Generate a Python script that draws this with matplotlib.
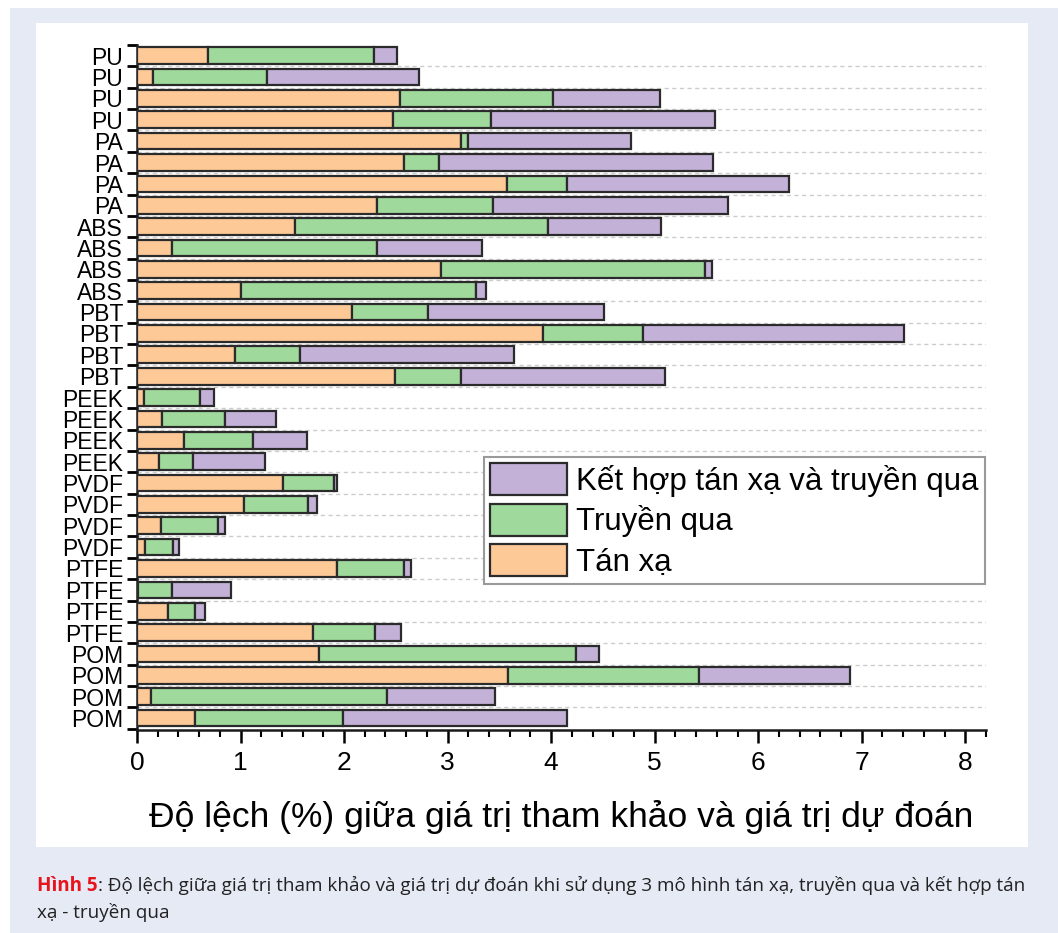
import numpy as np
import matplotlib.pyplot as plt
from matplotlib.patches import Patch, Rectangle

plt.rcParams['font.family'] = ['Liberation Sans', 'DejaVu Sans']

# materials, listed from the bottom bar to the top bar
materials = ['POM', 'POM', 'POM', 'POM',
             'PTFE', 'PTFE', 'PTFE', 'PTFE',
             'PVDF', 'PVDF', 'PVDF', 'PVDF',
             'PEEK', 'PEEK', 'PEEK', 'PEEK',
             'PBT', 'PBT', 'PBT', 'PBT',
             'ABS', 'ABS', 'ABS', 'ABS',
             'PA', 'PA', 'PA', 'PA',
             'PU', 'PU', 'PU', 'PU']

# deviation (%) for each model, same order as materials
tan_xa = [0.56, 0.14, 3.58, 1.76,
          1.70, 0.30, 0.01, 1.93,
          0.08, 0.23, 1.03, 1.41,
          0.21, 0.45, 0.24, 0.07,
          2.49, 0.95, 3.92, 2.08,
          1.00, 2.94, 0.34, 1.53,
          2.32, 3.57, 2.58, 3.13,
          2.47, 2.54, 0.15, 0.69]
truyen_qua = [1.43, 2.27, 1.85, 2.48,
              0.60, 0.26, 0.33, 0.65,
              0.27, 0.55, 0.62, 0.49,
              0.33, 0.67, 0.61, 0.54,
              0.64, 0.62, 0.97, 0.73,
              2.27, 2.55, 1.98, 2.44,
              1.12, 0.58, 0.34, 0.07,
              0.95, 1.48, 1.11, 1.60]
ket_hop = [2.16, 1.05, 1.46, 0.22,
           0.25, 0.10, 0.57, 0.07,
           0.06, 0.07, 0.09, 0.03,
           0.70, 0.52, 0.49, 0.13,
           1.97, 2.07, 2.52, 1.70,
           0.10, 0.06, 1.01, 1.09,
           2.27, 2.15, 2.64, 1.57,
           2.16, 1.03, 1.46, 0.22]

legend_labels = ['Tán xạ', 'Truyền qua', 'Kết hợp tán xạ và truyền qua']
colors = ['#fdc997', '#9fda9c', '#c3b1d8']
edge = '#2b2b2b'

fig = plt.figure(figsize=(10.58, 9.33), dpi=100)
fig.patch.set_facecolor('white')
fig.patches.append(Rectangle((10 / 1058, 0), 1, 1 - 8 / 933, transform=fig.transFigure,
                             facecolor='#e6eaf5', edgecolor='none', zorder=-3))
fig.patches.append(Rectangle((36 / 1058, 1 - 847 / 933), (1028 - 36) / 1058, (847 - 23) / 933,
                             transform=fig.transFigure, facecolor='white',
                             edgecolor='none', zorder=-2))

ax = fig.add_axes([137 / 1058, 1 - 730 / 933, (986 - 137) / 1058, (730 - 45) / 933])
ax.set_facecolor('none')

y = np.arange(len(materials))
left = np.zeros(len(materials))
for vals, c, lab in zip([tan_xa, truyen_qua, ket_hop], colors, legend_labels):
    ax.barh(y, vals, left=left, height=0.78, color=c, edgecolor=edge,
            linewidth=1.6, label=lab, zorder=3)
    left = left + np.array(vals)

ax.set_xlim(0, 8.2)
ax.set_ylim(-0.56, len(materials) - 0.5)

# boundaries between bars carry the ticks and the dashed grid
bounds = np.arange(-0.5, len(materials), 1.0)
ax.set_yticks(bounds)
ax.set_yticklabels([])
ax.set_yticks(y, minor=True)
ax.set_yticklabels(materials, minor=True, fontsize=16.5)
ax.tick_params(axis='y', which='major', length=7, width=2.0, direction='out')
ax.tick_params(axis='y', which='minor', length=0, pad=10)
for b in bounds[1:-1]:
    ax.axhline(b, color='#cccccc', linestyle=(0, (3, 2.5)), linewidth=1.0, zorder=1)

ax.set_xticks(np.arange(0, 9, 1))
ax.set_xticks(np.arange(0, 8.21, 0.2), minor=True)
ax.tick_params(axis='x', which='major', length=9, width=1.8, labelsize=19, pad=6)
ax.tick_params(axis='x', which='minor', length=5, width=1.5)
ax.set_xlabel('Độ lệch (%) giữa giá trị tham khảo và giá trị dự đoán',
              fontsize=25.5, labelpad=18)

for s in ['top', 'right']:
    ax.spines[s].set_visible(False)
for s in ['left', 'bottom']:
    ax.spines[s].set_linewidth(1.8)
    ax.spines[s].set_color('#1a1a1a')

handles = [Patch(facecolor=c, edgecolor=edge, linewidth=1.6, label=l)
           for c, l in zip(colors, legend_labels)][::-1]
leg = ax.legend(handles=handles, loc='upper right', bbox_to_anchor=(0.999, 0.3985),
                fontsize=22.5, handlelength=2.45, handleheight=1.2,
                labelspacing=0.22, handletextpad=0.3, borderpad=0.2,
                borderaxespad=0, fancybox=False, framealpha=1)
leg.get_frame().set_edgecolor('#9a9a9a')
leg.get_frame().set_linewidth(1.5)
leg.set_zorder(5)

# caption below the panel
cap_font = ['Open Sans', 'DejaVu Sans']
cap_size = 13.6
t1 = fig.text(37 / 1058, 1 - 891 / 933, 'Hình 5', color='#e8141c', fontweight='bold',
              fontsize=cap_size, family=cap_font)
fig.canvas.draw()
bb = t1.get_window_extent()
fig.text(bb.x1 / 1058, 1 - 891 / 933,
         ': Độ lệch giữa giá trị tham khảo và giá trị dự đoán khi sử dụng 3 mô hình tán xạ, truyền qua và kết hợp tán',
         color='#222222', fontsize=cap_size, family=cap_font)
fig.text(37 / 1058, 1 - 918 / 933, 'xạ - truyền qua', color='#222222',
         fontsize=cap_size, family=cap_font)

fig.savefig('out.png', dpi=100)
